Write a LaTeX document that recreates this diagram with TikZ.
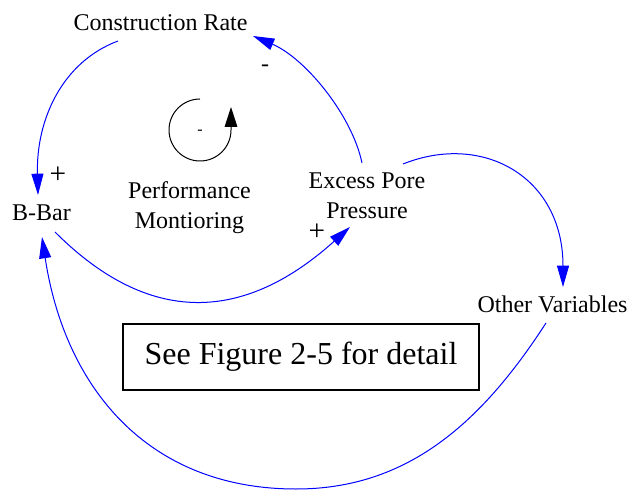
\documentclass[tikz,border=0pt]{standalone}
\usepackage{fontspec}
\setmainfont{Liberation Serif}
\usetikzlibrary{arrows.meta}
\begin{document}
\begin{tikzpicture}[x=0.75pt,y=-0.75pt,
  lbl/.style={font=\fontsize{18}{22.5}\selectfont, inner sep=0pt, align=center},
  sgn/.style={font=\fontsize{18}{22.5}\selectfont, inner sep=0pt},
  plus/.style={font=\fontsize{22}{24}\selectfont, inner sep=0pt},
  link/.style={draw=blue, line width=0.75pt, -{Triangle[length=16pt,width=9pt]}},
  loopline/.style={draw=black, line width=0.75pt, -{Triangle[length=15pt,width=9.5pt]}},
  notebox/.style={draw=black, line width=1.5pt, inner sep=0pt,
    minimum width=267pt, minimum height=49.5pt, font=\fontsize{24}{28}\selectfont}]
\useasboundingbox (0,0) rectangle (631,491);

% variables (base of a two-line label is its last line)
\node[lbl, anchor=base] (cr) at (160.5,31) {Construction Rate};
\node[lbl, anchor=base] (bb) at (41.5,221) {B-Bar};
\node[lbl, anchor=base] (pm) at (189.5,229) {Performance\\Montioring};
\node[lbl, anchor=base] (ep) at (367,219) {Excess Pore\\Pressure};
\node[lbl, anchor=base] (ov) at (552.5,313) {Other Variables};
\node[notebox] (note) at (301,357) {See Figure 2-5 for detail};

% causal links
\draw[link] ([shift={(-42.5,10)}]cr.base) .. controls (62,62) and (36,120) .. ([shift={(-3.5,-26)}]bb.base);
\draw[link] ([shift={(-5,-56)}]ep.base) .. controls (352,115) and (305,58) .. ([shift={(92.5,5)}]cr.base);
\draw[link] ([shift={(13.5,11)}]bb.base) .. controls (155,332) and (250,317) .. ([shift={(-17,8)}]ep.base);
\draw[link] ([shift={(36,-55)}]ep.base) .. controls (483,132) and (563,177) .. ([shift={(10.5,-26)}]ov.base);
\coordinate (low) at (296,489);
\draw[link] ([shift={(-6.5,10)}]ov.base) .. controls (480,425) and (406,489) .. (low)
  .. controls (146,489) and (64.5,385.5) .. ([shift={(0.5,16)}]bb.base);

% polarities
\node[plus] (s1) at (58,175) {+};
\node[sgn, anchor=base] (s2) at (265,71.4) {-};
\node[plus] (s3) at (317,232) {+};

% loop marker
\coordinate (lc) at (200,130);
\draw[loopline] (lc) ++(0,-31) arc[start angle=270, end angle=0, radius=31] -- ++(0,-23);
\node[font=\fontsize{12}{14}\selectfont, inner sep=0pt, anchor=base] (s4) at (200,134.6) {-};
\end{tikzpicture}
\end{document}
